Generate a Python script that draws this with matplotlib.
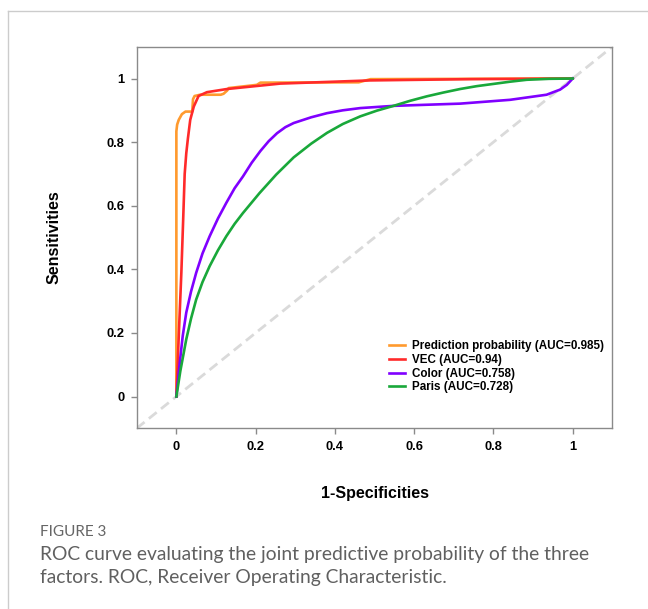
import matplotlib
matplotlib.use("Agg")
import matplotlib.pyplot as plt
from matplotlib.lines import Line2D

# ROC curves (x = 1-specificity, y = sensitivity)
pred_fpr = [0, 0, 0.002, 0.006, 0.014, 0.023, 0.040, 0.042, 0.046, 0.060, 0.112,
            0.119, 0.128, 0.132, 0.203, 0.212, 0.46, 0.49, 1.0]
pred_tpr = [0, 0.834, 0.855, 0.870, 0.888, 0.896, 0.896, 0.935, 0.945, 0.949, 0.949,
            0.952, 0.962, 0.970, 0.980, 0.987, 0.988, 0.998, 1.0]

vec_fpr = [0, 0.0025, 0.008, 0.0126, 0.017, 0.021, 0.025, 0.029, 0.035, 0.044, 0.056,
           0.077, 0.128, 0.262, 0.489, 0.741, 1.0]
vec_tpr = [0, 0.08, 0.25, 0.39, 0.55, 0.70, 0.765, 0.81, 0.87, 0.912, 0.945,
           0.957, 0.967, 0.984, 0.994, 0.998, 1.0]

color_fpr = [0, 0.008, 0.016, 0.025, 0.037, 0.050, 0.066, 0.084, 0.105, 0.126, 0.147,
             0.168, 0.190, 0.212, 0.233, 0.254, 0.275, 0.296, 0.340, 0.380, 0.420,
             0.464, 0.548, 0.716, 0.842, 0.934, 0.968, 0.985, 1.0]
color_tpr = [0, 0.10, 0.19, 0.264, 0.33, 0.389, 0.45, 0.504, 0.56, 0.609, 0.655,
             0.692, 0.735, 0.772, 0.803, 0.828, 0.847, 0.860, 0.878, 0.891, 0.900,
             0.907, 0.914, 0.921, 0.933, 0.949, 0.965, 0.980, 1.0]

paris_fpr = [0, 0.010, 0.025, 0.037, 0.050, 0.066, 0.084, 0.105, 0.126, 0.147, 0.168,
             0.210, 0.252, 0.296, 0.340, 0.380, 0.420, 0.464, 0.506, 0.548, 0.590,
             0.632, 0.674, 0.716, 0.758, 0.800, 0.842, 0.884, 0.940, 1.0]
paris_tpr = [0, 0.08, 0.18, 0.245, 0.305, 0.36, 0.41, 0.46, 0.504, 0.543, 0.577,
             0.640, 0.698, 0.752, 0.795, 0.829, 0.857, 0.881, 0.899, 0.914, 0.930,
             0.944, 0.956, 0.967, 0.976, 0.983, 0.990, 0.996, 0.999, 1.0]

labels = ["Prediction probability (AUC=0.985)", "VEC (AUC=0.94)",
          "Color (AUC=0.758)", "Paris (AUC=0.728)"]
colors = ["#FF9A2E", "#FF2A2A", "#8000FF", "#19A83A"]

ticks = [0, 0.2, 0.4, 0.6, 0.8, 1]
tick_labels = ["0", "0.2", "0.4", "0.6", "0.8", "1"]

plt.rcParams['font.family'] = ['Liberation Sans', 'DejaVu Sans']

fig = plt.figure(figsize=(6.48, 6.09), dpi=100)
ax = fig.add_axes([0.211, 0.2967, 0.734, 0.6266])

ax.plot([-0.1, 1.1], [-0.1, 1.1], color="#dadada", lw=2, dashes=(3.6, 2), zorder=1)
series = [(pred_fpr, pred_tpr), (vec_fpr, vec_tpr), (color_fpr, color_tpr), (paris_fpr, paris_tpr)]
for (fx, ty), lab, c in zip(series, labels, colors):
    ax.plot(fx, ty, color=c, lw=1.9, label=lab, solid_joinstyle="round", zorder=3)

ax.set_xlim(-0.1, 1.1)
ax.set_ylim(-0.1, 1.1)
ax.set_xticks(ticks)
ax.set_xticklabels(tick_labels, fontweight="bold", fontsize=9.3)
ax.set_yticks(ticks)
ax.set_yticklabels(tick_labels, fontweight="bold", fontsize=9.3)
ax.tick_params(direction="out", length=4, width=1, color="#8a8a8a", pad=5)
for sp in ax.spines.values():
    sp.set_color("#8a8a8a")
    sp.set_linewidth(1)

ax.set_xlabel("1-Specificities", fontweight="bold", fontsize=11.5, labelpad=24)
ax.set_ylabel("Sensitivities", fontweight="bold", fontsize=11.5, labelpad=32)

ax.legend(loc="lower right", bbox_to_anchor=(1.0, 0.07), frameon=False,
          prop={"weight": "bold", "size": 8.4}, handlelength=1.4, handletextpad=0.6,
          labelspacing=0.15, borderaxespad=0.3)

# page frame and caption
fig.add_artist(Line2D([8 / 648, 8 / 648], [0, 1 - 11 / 609], color="#cccccc", lw=1))
fig.add_artist(Line2D([8 / 648, 1], [1 - 11 / 609, 1 - 11 / 609], color="#cccccc", lw=1))
fig.text(40 / 648, 1 - 532 / 609, "FIGURE 3", family="Lato", fontsize=11,
         color="#666666", va="center", ha="left")
fig.text(40 / 648, 1 - 566 / 609,
         "ROC curve evaluating the joint predictive probability of the three\n"
         "factors. ROC, Receiver Operating Characteristic.",
         family="Lato", fontsize=13.9, color="#606060", va="center", ha="left",
         linespacing=1.42)

fig.savefig("out.png", dpi=100)
